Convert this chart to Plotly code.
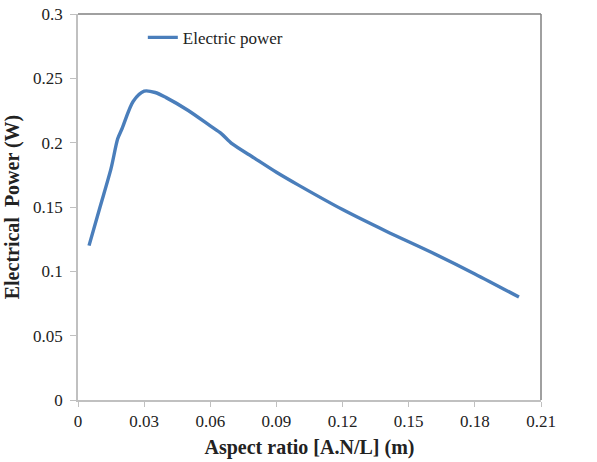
import plotly.graph_objects as go

aspect_ratio = [0.005, 0.010, 0.015, 0.018, 0.020, 0.025, 0.030, 0.035, 0.040, 0.050,
                0.060, 0.065, 0.070, 0.080, 0.090, 0.100, 0.120, 0.140, 0.160, 0.180, 0.200]
electric_power = [0.120, 0.150, 0.180, 0.203, 0.211, 0.232, 0.240, 0.239, 0.235, 0.225,
                  0.213, 0.207, 0.199, 0.188, 0.177, 0.167, 0.148, 0.131, 0.115, 0.098, 0.080]
x_ticks = [0, 0.03, 0.06, 0.09, 0.12, 0.15, 0.18, 0.21]
y_ticks = [0, 0.05, 0.1, 0.15, 0.2, 0.25, 0.3]

font = "Liberation Serif, Times New Roman, serif"

fig = go.Figure()
fig.add_trace(go.Scatter(
    x=aspect_ratio, y=electric_power, mode="lines", name="Electric power",
    line=dict(color="#4a7ebb", width=3.4, shape="spline", smoothing=0.8),
))

fig.update_layout(
    width=597, height=462,
    margin=dict(l=78, r=56, t=14, b=62, autoexpand=False),
    paper_bgcolor="white", plot_bgcolor="white",
    font=dict(family=font, size=17, color="#222"),
    showlegend=True,
    legend=dict(x=0.14, y=0.985, xanchor="left", yanchor="top",
                bgcolor="rgba(0,0,0,0)", font=dict(family=font, size=17, color="#222"),
                itemwidth=30),
    xaxis=dict(range=[0, 0.21], tickvals=x_ticks, ticktext=[("%g" % v) for v in x_ticks],
               automargin=False,
               showgrid=False, zeroline=False, showline=True, linecolor="#c0c0c0", linewidth=1.5,
               ticks="outside", ticklen=5, tickcolor="#c0c0c0",
               tickfont=dict(family=font, size=17, color="#222"),
               title=dict(text="<b>Aspect ratio [A.N/L] (m)</b>", font=dict(family=font, size=20), standoff=10)),
    yaxis=dict(range=[0, 0.3], tickvals=y_ticks, ticktext=[("%g" % v) for v in y_ticks],
               automargin=False,
               showgrid=False, zeroline=False, showline=True, linecolor="#c0c0c0", linewidth=1.5,
               ticks="outside", ticklen=6, tickcolor="#c0c0c0", ticklabelstandoff=4,
               tickfont=dict(family=font, size=17, color="#222"),
               title=dict(text="<b>Electrical  Power (W)</b>", font=dict(family=font, size=20), standoff=8)),
    shapes=[
        dict(type="line", xref="paper", yref="paper", x0=0, x1=1, y0=1, y1=1,
             line=dict(color="#808080", width=1.5)),
        dict(type="line", xref="paper", yref="paper", x0=1, x1=1, y0=0, y1=1,
             line=dict(color="#808080", width=1.5)),
    ],
)

fig.write_html("out.html")
